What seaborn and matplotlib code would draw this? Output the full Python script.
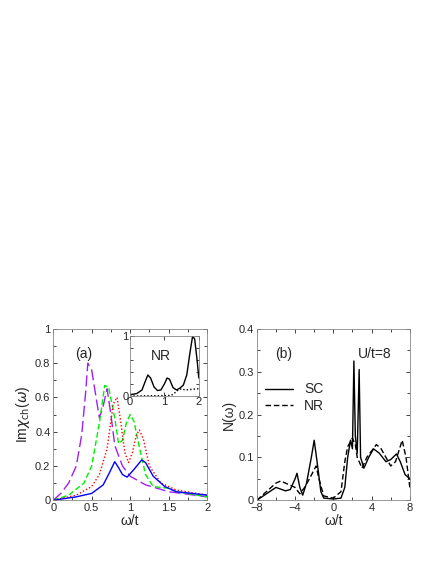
import matplotlib
matplotlib.use("Agg")
import matplotlib.pyplot as plt
import seaborn as sns

sns.set_style("ticks")
plt.rcParams['font.family'] = ['Liberation Sans', 'DejaVu Sans']

purple_x = [0,0.1,0.2,0.3,0.37,0.42,0.45,0.5,0.55,0.6,0.65,0.7,0.75,0.8,0.9,1.0,1.2,1.5,2]
purple_y = [0,0.04,0.1,0.2,0.38,0.62,0.80,0.76,0.62,0.48,0.55,0.65,0.5,0.32,0.2,0.14,0.09,0.05,0.02]
green_x = [0,0.2,0.4,0.5,0.6,0.67,0.72,0.8,0.85,0.9,0.95,1.0,1.05,1.1,1.2,1.3,1.5,1.6,2]
green_y = [0,0.03,0.1,0.2,0.45,0.67,0.66,0.48,0.33,0.35,0.45,0.5,0.46,0.35,0.15,0.08,0.07,0.05,0.02]
red_x = [0,0.3,0.5,0.6,0.7,0.78,0.83,0.88,0.93,0.98,1.03,1.08,1.12,1.17,1.25,1.4,1.6,2]
red_y = [0,0.03,0.08,0.15,0.3,0.56,0.6,0.45,0.28,0.22,0.28,0.38,0.41,0.36,0.2,0.1,0.06,0.03]
blue_x = [0,0.3,0.5,0.65,0.73,0.8,0.85,0.9,0.96,1.05,1.15,1.2,1.3,1.45,1.6,2]
blue_y = [0,0.02,0.04,0.09,0.16,0.225,0.19,0.15,0.135,0.18,0.235,0.22,0.14,0.08,0.05,0.03]

ins_sc_x = [0,0.2,0.35,0.45,0.52,0.6,0.7,0.8,0.9,1.0,1.08,1.15,1.25,1.35,1.45,1.55,1.65,1.75,1.82,1.88,1.95,2.0]
ins_sc_y = [0.02,0.04,0.1,0.25,0.35,0.3,0.15,0.09,0.1,0.2,0.3,0.28,0.14,0.1,0.13,0.18,0.35,0.75,1.0,0.95,0.6,0.3]
ins_nr_x = [0,0.5,1.0,1.2,1.3,1.4,1.5,1.6,1.8,2.0]
ins_nr_y = [0,0.003,0.005,0.01,0.05,0.1,0.12,0.1,0.11,0.12]

sc_x = [-8,-7,-6,-5,-4.5,-4,-3.8,-3.5,-3.2,-2.8,-2.3,-2,-1.7,-1.3,-1,0,0.8,1.2,1.5,1.8,2.0,2.15,2.3,2.5,2.7,2.85,3.2,3.7,4.2,4.8,5.5,6,6.6,7,7.5,8]
sc_y = [0,0.015,0.03,0.022,0.025,0.05,0.063,0.03,0.012,0.04,0.1,0.14,0.09,0.02,0.005,0.003,0.005,0.03,0.1,0.14,0.12,0.325,0.15,0.11,0.305,0.1,0.075,0.1,0.12,0.11,0.09,0.095,0.108,0.09,0.06,0.05]
nr_x = [-8,-7,-6,-5.5,-5,-4,-3.5,-3,-2.5,-1.8,-1.5,-1,0,0.8,1.2,1.5,2,2.3,2.5,3,3.5,4.5,5,6,6.5,7.2,7.6,8]
nr_y = [0,0.02,0.04,0.045,0.04,0.03,0.015,0.03,0.05,0.08,0.05,0.01,0.005,0.02,0.09,0.125,0.145,0.13,0.1,0.075,0.1,0.13,0.12,0.08,0.09,0.14,0.1,0.03]

fig = plt.figure(figsize=(4.36, 5.64), dpi=100)
axA = fig.add_axes([0.122, 0.113, 0.353, 0.304])
axB = fig.add_axes([0.589, 0.113, 0.351, 0.304])
axI = fig.add_axes([0.298, 0.298, 0.158, 0.106])

def ln(ax, x, y, **kw):
    sns.lineplot(x=x, y=y, ax=ax, sort=False, estimator=None, lw=1.0, **kw)

ln(axA, purple_x, purple_y, color='#a020f0', linestyle=(0, (8, 3)))
ln(axA, green_x, green_y, color='#00ee00', linestyle=(0, (4, 2)))
ln(axA, red_x, red_y, color='red', linestyle=(0, (1, 1.5)))
ln(axA, blue_x, blue_y, color='blue')
axA.set_xlim(0, 2); axA.set_ylim(0, 1)
axA.set_xticks([0, 0.5, 1, 1.5, 2]); axA.set_xticklabels(['0', '0.5', '1', '1.5', '2'])
axA.set_yticks([0, 0.2, 0.4, 0.6, 0.8, 1]); axA.set_yticklabels(['0', '0.2', '0.4', '0.6', '0.8', '1'])
axA.set_xlabel('ω/t', fontsize=10, labelpad=1)
axA.set_ylabel(r'Im$\chi_{\rm ch}$($\omega$)', fontsize=10, labelpad=2)
axA.text(0.14, 0.83, '(a)', transform=axA.transAxes, fontsize=10)

ln(axI, ins_sc_x, ins_sc_y, color='black')
ln(axI, ins_nr_x, ins_nr_y, color='black', linestyle=(0, (1, 1.5)))
axI.set_xlim(0, 2); axI.set_ylim(0, 1)
axI.set_xticks([0, 1, 2]); axI.set_yticks([0, 1])
axI.set_yticks([0.2, 0.4, 0.6, 0.8], minor=True)
axI.text(0.3, 0.6, 'NR', transform=axI.transAxes, fontsize=10)

ln(axB, sc_x, sc_y, color='black', label='SC')
ln(axB, nr_x, nr_y, color='black', linestyle=(0, (4, 2)), label='NR')
axB.set_xlim(-8, 8); axB.set_ylim(0, 0.4)
axB.set_xticks([-8, -4, 0, 4, 8]); axB.set_xticklabels(['−8', '−4', '0', '4', '8'])
axB.set_yticks([0, 0.1, 0.2, 0.3, 0.4]); axB.set_yticklabels(['0', '0.1', '0.2', '0.3', '0.4'])
axB.set_xlabel('ω/t', fontsize=10, labelpad=1)
axB.set_ylabel('N(ω)', fontsize=10, labelpad=2)
axB.text(0.12, 0.83, '(b)', transform=axB.transAxes, fontsize=10)
axB.text(0.66, 0.83, 'U/t=8', transform=axB.transAxes, fontsize=10)
axB.legend(loc='upper left', bbox_to_anchor=(0.02, 0.72), frameon=False, fontsize=10,
           handlelength=2.0, labelspacing=0.2, borderaxespad=0)

for ax in (axA, axB, axI):
    ax.tick_params(direction='in', top=True, right=True, labelsize=8, length=3, width=0.6, pad=2)
    ax.tick_params(which='minor', direction='in', top=True, right=True, length=2)
    for s in ax.spines.values():
        s.set_linewidth(0.6); s.set_color('#888888')
axI.tick_params(labelsize=8, pad=1)
axA.set_xticks([0.25, 0.75, 1.25, 1.75], minor=True)
axA.set_yticks([0.1, 0.3, 0.5, 0.7, 0.9], minor=True)
axB.set_xticks([-6, -2, 2, 6], minor=True)
axB.set_yticks([0.05, 0.15, 0.25, 0.35], minor=True)

fig.savefig('out.png', dpi=100)
